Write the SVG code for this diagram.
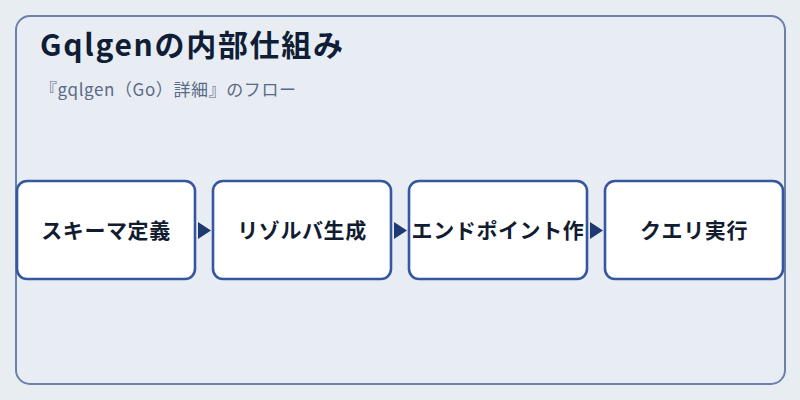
<svg xmlns="http://www.w3.org/2000/svg" width="800" height="400" viewBox="0 0 800 400">
<style>
.frame{fill:#e8edf3;stroke:#6b80ab;stroke-width:2}
.box{fill:#ffffff;stroke:#3557a0;stroke-width:2.6}
.lbl{font-family:"Noto Sans CJK JP","Noto Sans",sans-serif;font-size:21px;font-weight:bold;fill:#111c30;text-anchor:middle;letter-spacing:0.6px}
.title{font-family:"Noto Sans CJK JP","Noto Sans",sans-serif;font-size:30px;font-weight:bold;fill:#0f1d36;letter-spacing:1.7px}
.sub{font-family:"Noto Sans CJK JP","Noto Sans",sans-serif;font-size:17px;fill:#5a6a86;letter-spacing:0.6px}
.arr{fill:#1f3a73}
</style>
<rect width="800" height="400" fill="#e8edf2"/>
<rect class="frame" x="16" y="16" width="769" height="368" rx="14"/>
<text class="title" x="40" y="56">Gqlgenの内部仕組み</text>
<text class="sub" x="40" y="96">『gqlgen（Go）詳細』のフロー</text>
<g id="connectors">
<polygon class="arr" points="198,222 211,230.5 198,239"/>
<polygon class="arr" points="394,222 407,230.5 394,239"/>
<polygon class="arr" points="590,222 603,230.5 590,239"/>
</g>
<g id="node1"><rect class="box" x="17" y="181" width="178" height="98" rx="10"/><text class="lbl" x="106" y="238">スキーマ定義</text></g>
<g id="node2"><rect class="box" x="213" y="181" width="178" height="98" rx="10"/><text class="lbl" x="302" y="238">リゾルバ生成</text></g>
<g id="node3"><rect class="box" x="409" y="181" width="178" height="98" rx="10"/><text class="lbl" x="498" y="238">エンドポイント作</text></g>
<g id="node4"><rect class="box" x="605" y="181" width="178" height="98" rx="10"/><text class="lbl" x="694" y="238">クエリ実行</text></g>
</svg>
